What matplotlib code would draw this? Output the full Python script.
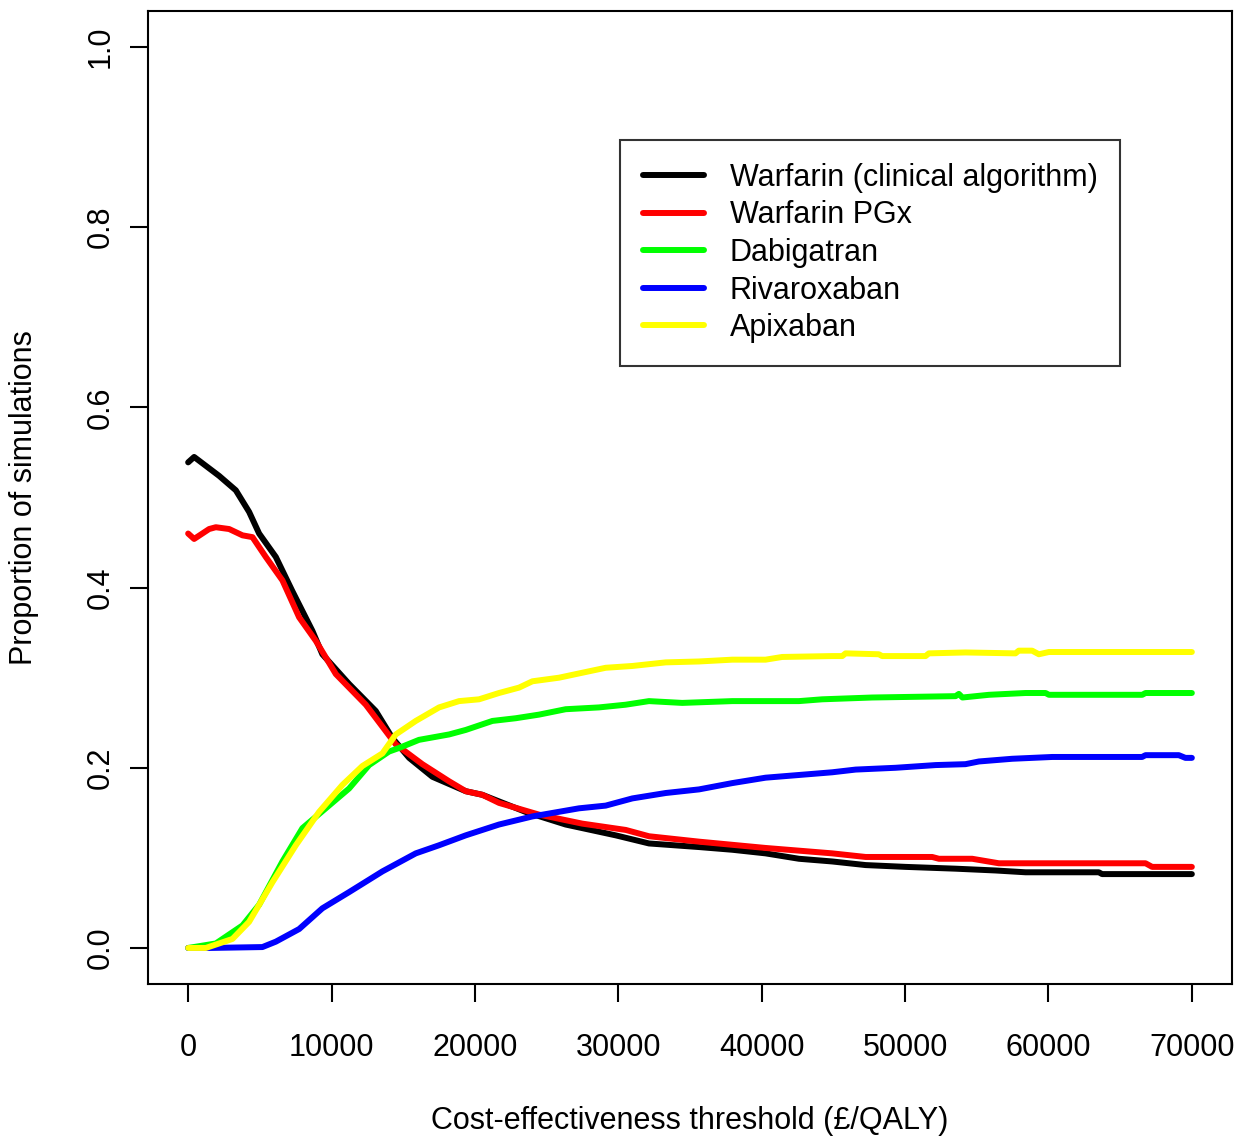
import matplotlib
matplotlib.use("Agg")
import matplotlib.pyplot as plt

plt.rcParams['font.family'] = ['Liberation Sans', 'DejaVu Sans']

# Warfarin (clinical algorithm)
x_warf = [0, 418, 2161, 3325, 4253, 4950, 6115, 7270, 8665, 9360, 11225, 13086, 14245,
          15410, 17035, 19360, 20520, 23540, 26330, 29820, 32140, 35630, 37950, 40270,
          42600, 44920, 47250, 50030, 53520, 56310, 58400, 63510, 63740, 70000]
y_warf = [0.539, 0.545, 0.524, 0.508, 0.484, 0.460, 0.434, 0.396, 0.352, 0.326, 0.293, 0.263, 0.233,
          0.211, 0.190, 0.174, 0.170, 0.151, 0.137, 0.125, 0.116, 0.112, 0.109, 0.105,
          0.099, 0.096, 0.092, 0.090, 0.088, 0.086, 0.084, 0.084, 0.082, 0.082]

# Warfarin PGx
x_pgx = [0, 418, 1464, 1930, 2860, 3790, 4485, 5415, 6575, 7740, 8900, 10300, 12390, 14480,
         16335, 18200, 19360, 20520, 21683, 24470, 27490, 30520, 32140, 35630, 40270, 42600,
         44920, 47250, 51890, 52360, 54680, 56540, 66770, 67230, 70000]
y_pgx = [0.460, 0.454, 0.465, 0.467, 0.465, 0.458, 0.456, 0.434, 0.408, 0.367, 0.341, 0.304, 0.270, 0.226,
         0.204, 0.185, 0.174, 0.170, 0.161, 0.148, 0.138, 0.131, 0.124, 0.118, 0.111, 0.108,
         0.105, 0.101, 0.101, 0.099, 0.099, 0.094, 0.094, 0.090, 0.090]

# Dabigatran
x_dabi = [0, 1930, 3790, 4950, 6575, 7970, 9600, 11225, 12620, 14010, 14710, 16100, 18200,
          19360, 21220, 22850, 24470, 26330, 28650, 30510, 32140, 34460, 37950, 42600, 44220,
          47710, 53520, 53750, 54000, 55850, 58400, 59800, 60030, 66540, 66770, 70000]
y_dabi = [0.000, 0.005, 0.025, 0.048, 0.096, 0.133, 0.155, 0.177, 0.203, 0.218, 0.222, 0.231, 0.237,
          0.242, 0.252, 0.255, 0.259, 0.265, 0.267, 0.270, 0.274, 0.272, 0.274, 0.274, 0.276,
          0.278, 0.2795, 0.282, 0.278, 0.281, 0.283, 0.283, 0.281, 0.281, 0.283, 0.283]

# Rivaroxaban
x_riva = [0, 1464, 5180, 6115, 7740, 9360, 11225, 13550, 15875, 17500, 19360, 21680, 24010,
          27260, 29120, 30980, 33310, 35630, 37950, 40270, 42600, 44920, 46550, 49340, 52130,
          54210, 55150, 57470, 60260, 66530, 66770, 69090, 69550, 70000]
y_riva = [0.000, 0.000, 0.001, 0.007, 0.021, 0.044, 0.062, 0.085, 0.105, 0.114, 0.125, 0.137, 0.146,
          0.155, 0.158, 0.166, 0.172, 0.176, 0.183, 0.189, 0.192, 0.195, 0.198, 0.200, 0.203,
          0.204, 0.207, 0.210, 0.212, 0.212, 0.214, 0.214, 0.211, 0.211]

# Apixaban
x_apix = [0, 1230, 3090, 4250, 5880, 7510, 9130, 10760, 12155, 13550, 14480, 15875, 17500,
          18894, 20290, 21680, 23080, 24010, 25870, 27490, 29120, 30980, 33310, 35630, 37950,
          40270, 41430, 44920, 45620, 45850, 48170, 48400, 51430, 51660, 54210, 57700, 57930,
          58860, 59330, 60030, 70000]
y_apix = [0.000, 0.000, 0.010, 0.029, 0.073, 0.114, 0.151, 0.181, 0.202, 0.216, 0.237, 0.252, 0.267,
          0.274, 0.276, 0.283, 0.289, 0.296, 0.300, 0.3055, 0.311, 0.313, 0.317, 0.318, 0.320,
          0.320, 0.323, 0.324, 0.324, 0.327, 0.326, 0.324, 0.324, 0.327, 0.328, 0.327, 0.330,
          0.330, 0.326, 0.3285, 0.3285]

labels = ["Warfarin (clinical algorithm)", "Warfarin PGx", "Dabigatran", "Rivaroxaban", "Apixaban"]
colors = ["#000000", "#ff0000", "#00ff00", "#0000ff", "#ffff00"]
series = [(x_warf, y_warf), (x_pgx, y_pgx), (x_dabi, y_dabi), (x_riva, y_riva), (x_apix, y_apix)]

x_ticks = [0, 10000, 20000, 30000, 40000, 50000, 60000, 70000]
y_ticks = [0.0, 0.2, 0.4, 0.6, 0.8, 1.0]

fig = plt.figure(figsize=(12.5, 11.37), dpi=100)
ax = fig.add_axes([148 / 1250, 1 - 984 / 1137, (1232 - 148) / 1250, (984 - 11) / 1137])

for (xs, ys), c, lab in zip(series, colors, labels):
    ax.plot(xs, ys, color=c, lw=4.3, label=lab, solid_capstyle='round', solid_joinstyle='round')

ax.set_xlim(-2800, 72800)
ax.set_ylim(-0.04, 1.04)
ax.set_xticks(x_ticks)
ax.set_xticklabels([str(v) for v in x_ticks])
ax.set_yticks(y_ticks)
ax.set_yticklabels([f"{v:.1f}" for v in y_ticks], rotation=90, va='center')
ax.tick_params(axis='both', direction='out', length=13, width=1.5, labelsize=22, pad=22)
ax.tick_params(axis='y', pad=10)
for s in ax.spines.values():
    s.set_linewidth(1.5)

ax.set_xlabel("Cost-effectiveness threshold (£/QALY)", fontsize=22, labelpad=31)
ax.set_ylabel("Proportion of simulations", fontsize=22, labelpad=34)

leg = ax.legend(loc='upper left', bbox_to_anchor=((620 - 148) / 1084, (984 - 140) / 973),
                fontsize=22, frameon=True, fancybox=False, edgecolor='black',
                handlelength=2.0, handletextpad=0.85, labelspacing=0.25,
                borderpad=0.74, borderaxespad=0)
leg.get_frame().set_linewidth(1.5)

fig.savefig("out.png", dpi=100)
